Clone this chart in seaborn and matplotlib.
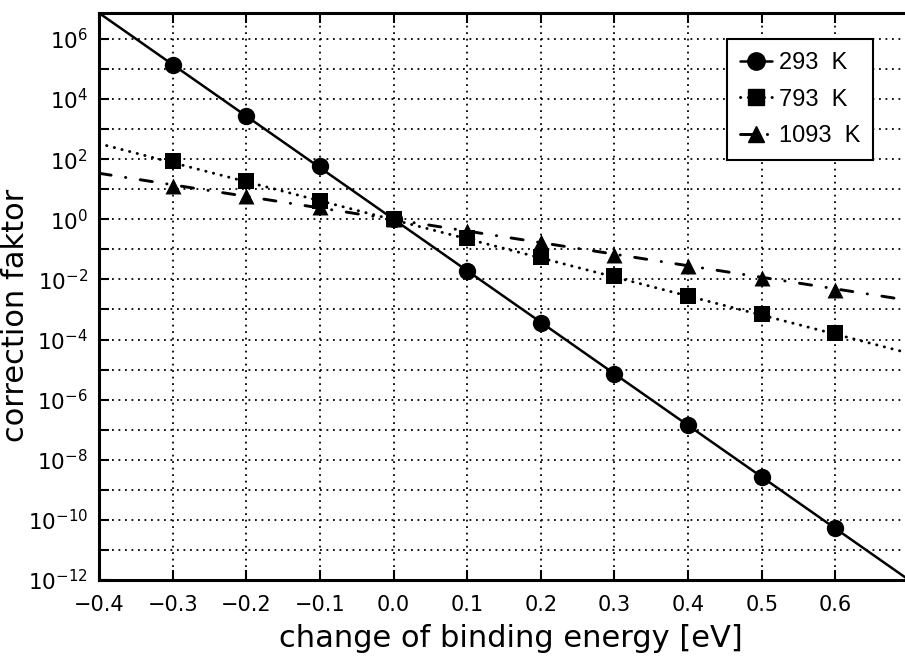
import matplotlib
matplotlib.use("Agg")
import math
import matplotlib.pyplot as plt
from matplotlib.lines import Line2D
from matplotlib.ticker import FixedLocator, FuncFormatter
import seaborn as sns
import pandas as pd

# ---- data ----
energy = [-0.3, -0.2, -0.1, 0.0, 0.1, 0.2, 0.3, 0.4, 0.5, 0.6]
f293 = [1.4e5, 2.8e3, 58, 1.0, 0.019, 3.6e-4, 7.0e-6, 1.4e-7, 2.6e-9, 5.2e-11]
f793 = [88, 19, 4.2, 1.0, 0.23, 0.055, 0.013, 2.9e-3, 7.0e-4, 1.6e-4]
f1093 = [13, 6.0, 2.6, 1.0, 0.42, 0.17, 0.066, 0.028, 0.011, 4.6e-3]

# fitted lines extended over the full energy range
energy_ends = [-0.4, 0.7]
l293 = [7.3e6, 1.0e-12]
l793 = [330, 3.5e-5]
l1093 = [34, 2.0e-3]

labels = ["293  K", "793  K", "1093  K"]
xticks = [-0.4, -0.3, -0.2, -0.1, 0.0, 0.1, 0.2, 0.3, 0.4, 0.5, 0.6]
ydecades = list(range(-12, 7))

sns.set_theme(style="ticks")
plt.rcParams["font.family"] = ["DejaVu Sans"]
plt.rcParams["mathtext.fontset"] = "custom"
plt.rcParams["mathtext.rm"] = "Liberation Sans"
plt.rcParams["text.color"] = "black"
plt.rcParams["axes.labelcolor"] = "black"

fig = plt.figure(figsize=(9.05, 6.62), dpi=100)
ax = fig.add_axes([99 / 905, (662 - 580) / 662, (909 - 99) / 905, (580 - 13) / 662])

styles = [
    dict(ls="-", lw=1.8, marker="o", ms=12.5),
    dict(ls=(0, (0.1, 2.6)), lw=2.1, marker="s", ms=12),
    dict(ls=(0, (4.2, 5.0, 0.1, 5.0)), lw=2.1, marker="^", ms=11.5),
]
series = [f293, f793, f1093]
lines = [l293, l793, l1093]

for lab, ys, ls_, st in zip(labels, series, lines, styles):
    dl = pd.DataFrame({"E": energy_ends, "f": ls_})
    sns.lineplot(data=dl, x="E", y="f", ax=ax, color="black", lw=st["lw"],
                 linestyle=st["ls"], legend=False, zorder=3,
                 dash_capstyle="round", solid_capstyle="butt")
    dp = pd.DataFrame({"E": energy, "f": ys})
    sns.scatterplot(data=dp, x="E", y="f", ax=ax, color="black", marker=st["marker"],
                    s=st["ms"] ** 2, edgecolor="black", linewidth=0, zorder=4,
                    legend=False)

ax.set_yscale("log")
ax.set_xlim(-0.4, 0.7)
ax.set_ylim(1e-12, 7.3e6)

ax.xaxis.set_major_locator(FixedLocator(xticks))
ax.xaxis.set_major_formatter(FuncFormatter(lambda v, p: f"{v:.1f}".replace("-", "\u2212")))
ax.yaxis.set_major_locator(FixedLocator([10.0 ** e for e in ydecades]))
ax.yaxis.set_minor_locator(FixedLocator([]))


def yfmt(v, p):
    e = int(round(math.log10(v)))
    if e % 2 == 0:
        s = str(e).replace("-", "\u2212")
        return r"$\mathdefault{10^{%s}}$" % s
    return ""


ax.yaxis.set_major_formatter(FuncFormatter(yfmt))

ax.grid(True, which="major", color="black", linestyle=(0, (1, 2.6)), linewidth=1.3)
ax.set_axisbelow(True)

ax.tick_params(axis="both", which="major", direction="in", length=7, width=1.5,
               labelsize=15, top=True, right=False, colors="black")
ax.tick_params(axis="x", pad=11)
ax.tick_params(axis="y", pad=8, labelsize=15.5)
for side in ["left", "bottom", "top"]:
    ax.spines[side].set_linewidth(2.2)
    ax.spines[side].set_color("black")
ax.spines["right"].set_visible(False)

ax.set_xlabel("change of binding energy [eV]", fontsize=22)
ax.xaxis.set_label_coords((511 - 99) / 810, (580 - 624) / 567)
ax.set_ylabel("correction faktor", fontsize=22)
ax.yaxis.set_label_coords((30 - 99) / 810, (580 - 315) / 567)

handles = [
    Line2D([], [], color="black", lw=st["lw"], linestyle=st["ls"], marker=st["marker"],
           markersize=st["ms"], dash_capstyle="round")
    for st in styles
]
leg = ax.legend(handles, labels, loc="upper right",
                bbox_to_anchor=(873 / 905, 1 - 39 / 662), bbox_transform=fig.transFigure,
                prop={"family": "Liberation Sans", "size": 17},
                frameon=True, fancybox=False, framealpha=1,
                edgecolor="black", handlelength=1.35, handletextpad=0.3,
                labelspacing=0.62, borderpad=0.55, borderaxespad=0)
leg.get_frame().set_linewidth(1.5)
leg.set_zorder(10)

fig.savefig("out.png", dpi=100)
